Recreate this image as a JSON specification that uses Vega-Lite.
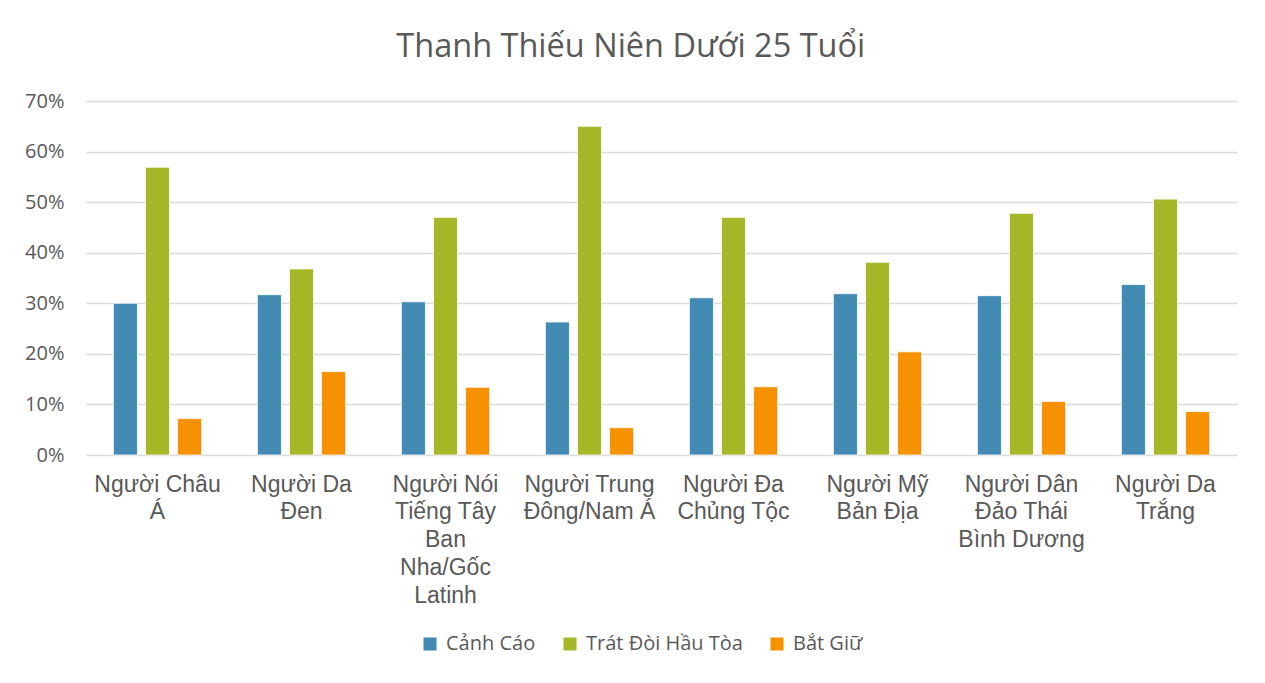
{
  "$schema": "https://vega.github.io/schema/vega-lite/v6.json",
  "autosize": {"type": "fit", "contains": "padding"},
  "width": 1265,
  "height": 683,
  "padding": {"left": 24, "right": 28, "top": 30, "bottom": 76},
  "background": "white",
  "title": {
    "text": "Thanh Thiếu Niên Dưới 25 Tuổi",
    "font": "Open Sans",
    "fontSize": 32.5,
    "fontWeight": "normal",
    "color": "#595959",
    "frame": "bounds",
    "offset": 28
  },
  "data": {
    "values": [
      {"group": "Người Châu|Á", "series": "Cảnh Cáo", "value": 0.300},
      {"group": "Người Châu|Á", "series": "Trát Đòi Hầu Tòa", "value": 0.569},
      {"group": "Người Châu|Á", "series": "Bắt Giữ", "value": 0.072},
      {"group": "Người Da|Đen", "series": "Cảnh Cáo", "value": 0.317},
      {"group": "Người Da|Đen", "series": "Trát Đòi Hầu Tòa", "value": 0.368},
      {"group": "Người Da|Đen", "series": "Bắt Giữ", "value": 0.165},
      {"group": "Người Nói|Tiếng Tây|Ban|Nha/Gốc|Latinh", "series": "Cảnh Cáo", "value": 0.303},
      {"group": "Người Nói|Tiếng Tây|Ban|Nha/Gốc|Latinh", "series": "Trát Đòi Hầu Tòa", "value": 0.470},
      {"group": "Người Nói|Tiếng Tây|Ban|Nha/Gốc|Latinh", "series": "Bắt Giữ", "value": 0.134},
      {"group": "Người Trung|Đông/Nam Á", "series": "Cảnh Cáo", "value": 0.263},
      {"group": "Người Trung|Đông/Nam Á", "series": "Trát Đòi Hầu Tòa", "value": 0.650},
      {"group": "Người Trung|Đông/Nam Á", "series": "Bắt Giữ", "value": 0.054},
      {"group": "Người Đa|Chủng Tộc", "series": "Cảnh Cáo", "value": 0.311},
      {"group": "Người Đa|Chủng Tộc", "series": "Trát Đòi Hầu Tòa", "value": 0.470},
      {"group": "Người Đa|Chủng Tộc", "series": "Bắt Giữ", "value": 0.135},
      {"group": "Người Mỹ|Bản Địa", "series": "Cảnh Cáo", "value": 0.319},
      {"group": "Người Mỹ|Bản Địa", "series": "Trát Đòi Hầu Tòa", "value": 0.381},
      {"group": "Người Mỹ|Bản Địa", "series": "Bắt Giữ", "value": 0.204},
      {"group": "Người Dân|Đảo Thái|Bình Dương", "series": "Cảnh Cáo", "value": 0.315},
      {"group": "Người Dân|Đảo Thái|Bình Dương", "series": "Trát Đòi Hầu Tòa", "value": 0.478},
      {"group": "Người Dân|Đảo Thái|Bình Dương", "series": "Bắt Giữ", "value": 0.106},
      {"group": "Người Da|Trắng", "series": "Cảnh Cáo", "value": 0.337},
      {"group": "Người Da|Trắng", "series": "Trát Đòi Hầu Tòa", "value": 0.506},
      {"group": "Người Da|Trắng", "series": "Bắt Giữ", "value": 0.086}
    ]
  },
  "mark": {"type": "bar", "stroke": "white", "strokeWidth": 0.8},
  "encoding": {
    "x": {
      "field": "group",
      "type": "nominal",
      "sort": null,
      "scale": {"paddingInner": 0.387, "paddingOuter": 0.19},
      "axis": {
        "title": null,
        "labelExpr": "split(datum.value, '|')",
        "labelAngle": 0,
        "labelFont": "Liberation Sans",
        "labelFontSize": 23,
        "labelColor": "#595959",
        "labelLineHeight": 27.75,
        "labelPadding": 18,
        "ticks": false,
        "domain": false,
        "grid": false,
        "labelLimit": 200
      }
    },
    "xOffset": {
      "field": "series",
      "type": "nominal",
      "sort": ["Cảnh Cáo", "Trát Đòi Hầu Tòa", "Bắt Giữ"],
      "scale": {"paddingInner": 0.25, "paddingOuter": 0}
    },
    "y": {
      "field": "value",
      "type": "quantitative",
      "scale": {"domain": [0, 0.7], "nice": false},
      "axis": {
        "title": null,
        "format": ".0%",
        "values": [0, 0.1, 0.2, 0.3, 0.4, 0.5, 0.6, 0.7],
        "labelFont": "Open Sans",
        "labelFontSize": 20,
        "labelColor": "#595959",
        "labelPadding": 22,
        "ticks": false,
        "domain": false,
        "gridColor": "#D9D9D9",
        "gridWidth": 1.5
      }
    },
    "color": {
      "field": "series",
      "type": "nominal",
      "scale": {
        "domain": ["Cảnh Cáo", "Trát Đòi Hầu Tòa", "Bắt Giữ"],
        "range": ["#418AB3", "#A6B727", "#F69200"]
      },
      "legend": {
        "title": null,
        "orient": "none",
        "legendX": 334,
        "legendY": 533,
        "direction": "horizontal",
        "symbolType": "square",
        "symbolSize": 170,
        "symbolStrokeWidth": 0,
        "labelFont": "Open Sans",
        "labelFontSize": 20,
        "labelColor": "#595959",
        "labelOffset": 6,
        "columnPadding": 24
      }
    }
  },
  "config": {
    "view": {"stroke": null}
  }
}
